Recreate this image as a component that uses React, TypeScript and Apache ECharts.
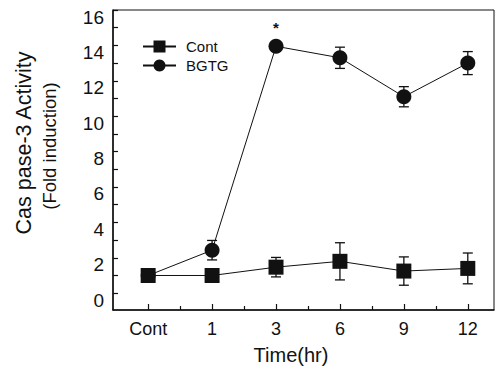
import React, { useEffect, useRef } from "react";
import * as echarts from "echarts";

const categories = ["Cont", "1", "3", "6", "9", "12"];
const contValues = [1.0, 1.0, 1.47, 1.8, 1.25, 1.4];
const contErrors = [0, 0, 0.55, 1.05, 0.8, 0.87];
const bgtgValues = [1.0, 2.43, 13.95, 13.3, 11.1, 13.0];
const bgtgErrors = [0, 0.55, 0, 0.6, 0.57, 0.65];
const bgtgSignificant = [false, false, true, false, false, false];
const yTickValues = [0, 1, 2, 3, 4, 5, 6, 7, 8, 9, 10, 11, 12, 13, 14, 15, 16];
const yLabelValues = [0, 2, 4, 6, 8, 10, 12, 14, 16];

const FONT = "'Liberation Sans', Arial, Helvetica, sans-serif";
const INK = "#111";

export default function App() {
  const ref = useRef<HTMLDivElement>(null);
  useEffect(() => {
    if (!ref.current) return;
    const chart = echarts.init(ref.current, null, { renderer: "svg" });
    const idx = categories.map((_, i) => i);
    const halfTicks = idx.slice(0, -1).map((i) => i + 0.5);

    const errData = (vals: number[], errs: number[]) =>
      vals
        .map((v, i) => [i, v - errs[i], v + errs[i]])
        .filter((_, i) => errs[i] > 0);

    const renderErr = (params: any, api: any) => {
      const x = api.value(0);
      const lo = api.coord([x, api.value(1)]);
      const hi = api.coord([x, api.value(2)]);
      const w = 5;
      const style = { stroke: INK, lineWidth: 1.3 };
      return {
        type: "group",
        children: [
          { type: "line", shape: { x1: lo[0], y1: lo[1], x2: hi[0], y2: hi[1] }, style },
          { type: "line", shape: { x1: lo[0] - w, y1: lo[1], x2: lo[0] + w, y2: lo[1] }, style },
          { type: "line", shape: { x1: hi[0] - w, y1: hi[1], x2: hi[0] + w, y2: hi[1] }, style },
        ],
      };
    };

    chart.setOption({
      animation: false,
      backgroundColor: "#fff",
      textStyle: { fontFamily: FONT, color: INK },
      grid: {
        left: 113,
        right: 3,
        top: 10,
        bottom: 63,
        show: true,
        borderColor: INK,
        borderWidth: 1,
        backgroundColor: "transparent",
      },
      legend: {
        orient: "vertical",
        left: 137,
        top: 34,
        itemWidth: 33,
        itemHeight: 15,
        itemGap: 4,
        data: ["Cont", "BGTG"],
        textStyle: { fontFamily: FONT, fontSize: 15, color: INK, padding: [0, 0, 0, 5] },
      },
      xAxis: [
        {
          type: "value",
          min: -0.55,
          max: 5.41,
          splitLine: { show: false },
          axisLine: { show: true, onZero: false, lineStyle: { color: INK, width: 1.5 } },
          axisTick: {
            show: true,
            inside: true,
            length: 6,
            customValues: idx,
            lineStyle: { color: INK, width: 1.2 },
          },
          axisLabel: {
            show: true,
            customValues: idx,
            margin: 10,
            fontFamily: FONT,
            fontSize: 18,
            color: INK,
            formatter: (v: number) => categories[Math.round(v)] ?? "",
          },
        },
        {
          type: "value",
          min: -0.55,
          max: 5.41,
          position: "bottom",
          splitLine: { show: false },
          axisLine: { show: false, onZero: false },
          axisTick: {
            show: true,
            inside: true,
            length: 4,
            customValues: halfTicks,
            lineStyle: { color: INK, width: 1.2 },
          },
          axisLabel: { show: false },
        },
      ],
      yAxis: {
        type: "value",
        min: -0.95,
        max: 16,
        splitLine: { show: false },
        axisLine: { show: true, onZero: false, lineStyle: { color: INK, width: 1.5 } },
        axisTick: {
          show: true,
          inside: true,
          length: 5,
          customValues: yTickValues,
          lineStyle: { color: INK, width: 1.2 },
        },
        axisLabel: {
          show: true,
          customValues: yLabelValues,
          margin: 9,
          fontFamily: FONT,
          fontSize: 19,
          color: INK,
          verticalAlign: "top",
          lineHeight: 14,
        },
      },
      series: [
        {
          type: "custom",
          name: "BGTG err",
          renderItem: renderErr,
          data: errData(bgtgValues, bgtgErrors),
          z: 1,
          silent: true,
        },
        {
          type: "custom",
          name: "Cont err",
          renderItem: renderErr,
          data: errData(contValues, contErrors),
          z: 1,
          silent: true,
        },
        {
          name: "BGTG",
          type: "line",
          symbol: "circle",
          symbolSize: 15,
          itemStyle: { color: INK },
          lineStyle: { color: INK, width: 1 },
          data: bgtgValues.map((v, i) => ({
            value: [i, v],
            label: bgtgSignificant[i]
              ? { show: true, formatter: "*", position: "top", distance: 4, fontSize: 15, fontWeight: "bold", color: INK, fontFamily: FONT }
              : { show: false },
          })),
          z: 3,
        },
        {
          name: "Cont",
          type: "line",
          symbol: "rect",
          symbolSize: 15,
          itemStyle: { color: INK },
          lineStyle: { color: INK, width: 1 },
          data: contValues.map((v, i) => [i, v]),
          z: 4,
        },
      ],
      graphic: [
        {
          type: "text",
          x: 24,
          y: 143,
          rotation: Math.PI / 2,
          style: {
            text: "Cas pase-3 Activity",
            fontFamily: FONT,
            fontSize: 21.5,
            fill: INK,
            align: "center",
            verticalAlign: "middle",
          },
        },
        {
          type: "text",
          x: 49,
          y: 146,
          rotation: Math.PI / 2,
          style: {
            text: "(Fold induction)",
            fontFamily: FONT,
            fontSize: 18.5,
            fill: INK,
            align: "center",
            verticalAlign: "middle",
          },
        },
        {
          type: "text",
          x: 291,
          y: 355,
          style: {
            text: "Time(hr)",
            fontFamily: FONT,
            fontSize: 20,
            fill: INK,
            align: "center",
            verticalAlign: "middle",
          },
        },
      ],
    });
    return () => chart.dispose();
  }, []);
  return <div ref={ref} style={{ width: 497, height: 373, position: "absolute", left: 0, top: 0 }} />;
}
